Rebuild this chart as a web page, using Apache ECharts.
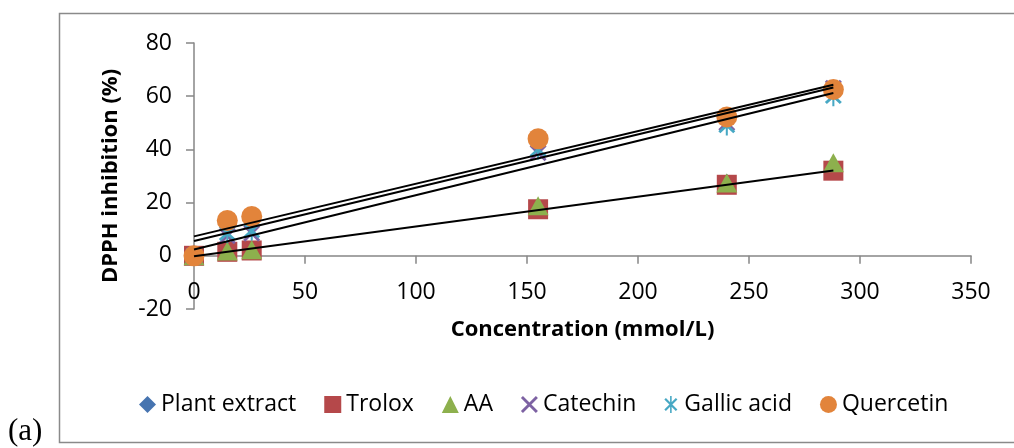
<!DOCTYPE html>
<html>
<head>
<meta charset="utf-8">
<script src="https://cdn.jsdelivr.net/npm/echarts@6/dist/echarts.min.js"></script>
<style>
  html, body { margin: 0; padding: 0; background: #fff; }
  #main { width: 1014px; height: 448px; }
</style>
</head>
<body>
<div id="main"></div>
<script>
// concentrations (mmol/L)
var conc = [0, 15, 26, 155, 240, 288];

// DPPH inhibition (%) per compound
var plantExtract = [0, 2, 2.5, 18, 27.5, 33];
var trolox = [0, 1.5, 2, 17.5, 26.7, 32];
var aa = [0, 1.8, 2.3, 18.8, 27.4, 35];
var catechin = [0, 7.5, 8.5, 38.7, 50, 63];
var gallicAcid = [0, 8.5, 9.5, 40, 49, 60];
var quercetin = [0, 13.3, 14.8, 44, 52.2, 62.5];

// trend line end points
var trendX = [0, 288];
var trendQuercetin = [7.3, 64.3];
var trendCatechin = [5.6, 63.3];
var trendGallic = [2.4, 61.2];
var trendTrolox = [-0.2, 32.1];

var xTicks = [0, 50, 100, 150, 200, 250, 300, 350];
var yTicks = [-20, 0, 20, 40, 60, 80];

function pts(ys) {
    return conc.map(function (x, i) { return [x, ys[i]]; });
}
function trend(ys) {
    return trendX.map(function (x, i) { return [x, ys[i]]; });
}

var xPath = 'path://M0,1.2 L1.2,0 L10,8.8 L8.8,10 Z M8.8,0 L10,1.2 L1.2,10 L0,8.8 Z';
var starPath = 'path://M0,1.2 L1.2,0 L10,8.8 L8.8,10 Z M8.8,0 L10,1.2 L1.2,10 L0,8.8 Z M4.4,-1.5 L5.6,-1.5 L5.6,11.5 L4.4,11.5 Z';

var chart = echarts.init(document.getElementById('main'));

var font = '"Open Sans", "Noto Sans", sans-serif';

function trendSeries(ys) {
    return {
        type: 'line',
        data: trend(ys),
        symbol: 'none',
        silent: true,
        z: 10,
        lineStyle: { color: '#000', width: 2 }
    };
}

var option = {
    animation: false,
    backgroundColor: '#fff',
    graphic: [
        {
            type: 'rect',
            shape: { x: 59.5, y: 13.5, width: 970, height: 429 },
            style: { fill: 'none', stroke: '#8a8a8a', lineWidth: 1.5 },
            silent: true
        },
        {
            type: 'text',
            left: 8,
            top: 416,
            style: { text: '(a)', font: '31px "Liberation Serif", "DejaVu Serif", serif', fill: '#000' },
            silent: true
        }
    ],
    grid: { left: 194, right: 43, top: 43, bottom: 139 },
    legend: {
        data: ['Plant extract', 'Trolox', 'AA', 'Catechin', 'Gallic acid', 'Quercetin'],
        left: 134,
        top: 388,
        itemGap: 28,
        itemWidth: 17,
        itemHeight: 17,
        textStyle: { fontFamily: font, fontSize: 23, color: '#000' }
    },
    xAxis: {
        type: 'value',
        min: xTicks[0],
        max: xTicks[xTicks.length - 1],
        interval: 50,
        name: 'Concentration (mmol/L)',
        nameLocation: 'middle',
        nameGap: 10,
        nameTextStyle: { fontFamily: font, fontSize: 22, fontWeight: 'bold', color: '#000' },
        axisLine: { onZero: true, lineStyle: { color: '#868686', width: 1.5 } },
        axisTick: { show: true, inside: false, length: 8, lineStyle: { color: '#868686', width: 1.5 } },
        axisLabel: { fontFamily: font, fontSize: 23, color: '#000', margin: -28 },
        splitLine: { show: false }
    },
    yAxis: {
        type: 'value',
        min: yTicks[0],
        max: yTicks[yTicks.length - 1],
        interval: 20,
        name: 'DPPH inhibition (%)',
        nameLocation: 'middle',
        nameGap: 72,
        nameRotate: 90,
        nameTextStyle: { fontFamily: font, fontSize: 22, fontWeight: 'bold', color: '#000' },
        axisLine: { show: true, lineStyle: { color: '#868686', width: 1.5 } },
        axisTick: { show: true, inside: false, length: 8, lineStyle: { color: '#868686', width: 1.5 } },
        axisLabel: { fontFamily: font, fontSize: 23, color: '#000', margin: 22 },
        splitLine: { show: false }
    },
    series: [
        {
            name: 'Plant extract', type: 'scatter', data: pts(plantExtract),
            symbol: 'diamond', symbolSize: [16, 18],
            itemStyle: { color: '#4674B0', opacity: 1 }
        },
        {
            name: 'Trolox', type: 'scatter', data: pts(trolox),
            symbol: 'rect', symbolSize: 20,
            itemStyle: { color: '#B5484A', opacity: 1 }
        },
        {
            name: 'AA', type: 'scatter', data: pts(aa),
            symbol: 'triangle', symbolSize: [21, 19],
            itemStyle: { color: '#8DB04D', opacity: 1 }
        },
        {
            name: 'Catechin', type: 'scatter', data: pts(catechin),
            symbol: xPath, symbolSize: 17,
            itemStyle: { color: '#7D62A3', opacity: 1 }
        },
        {
            name: 'Gallic acid', type: 'scatter', data: pts(gallicAcid),
            symbol: starPath, symbolSize: [17, 20],
            itemStyle: { color: '#47A8C4', opacity: 1 }
        },
        {
            name: 'Quercetin', type: 'scatter', data: pts(quercetin),
            symbol: 'circle', symbolSize: 21,
            itemStyle: { color: '#E2843B', opacity: 1 }
        },
        trendSeries(trendQuercetin),
        trendSeries(trendCatechin),
        trendSeries(trendGallic),
        trendSeries(trendTrolox)
    ]
};

chart.setOption(option);
</script>
</body>
</html>
